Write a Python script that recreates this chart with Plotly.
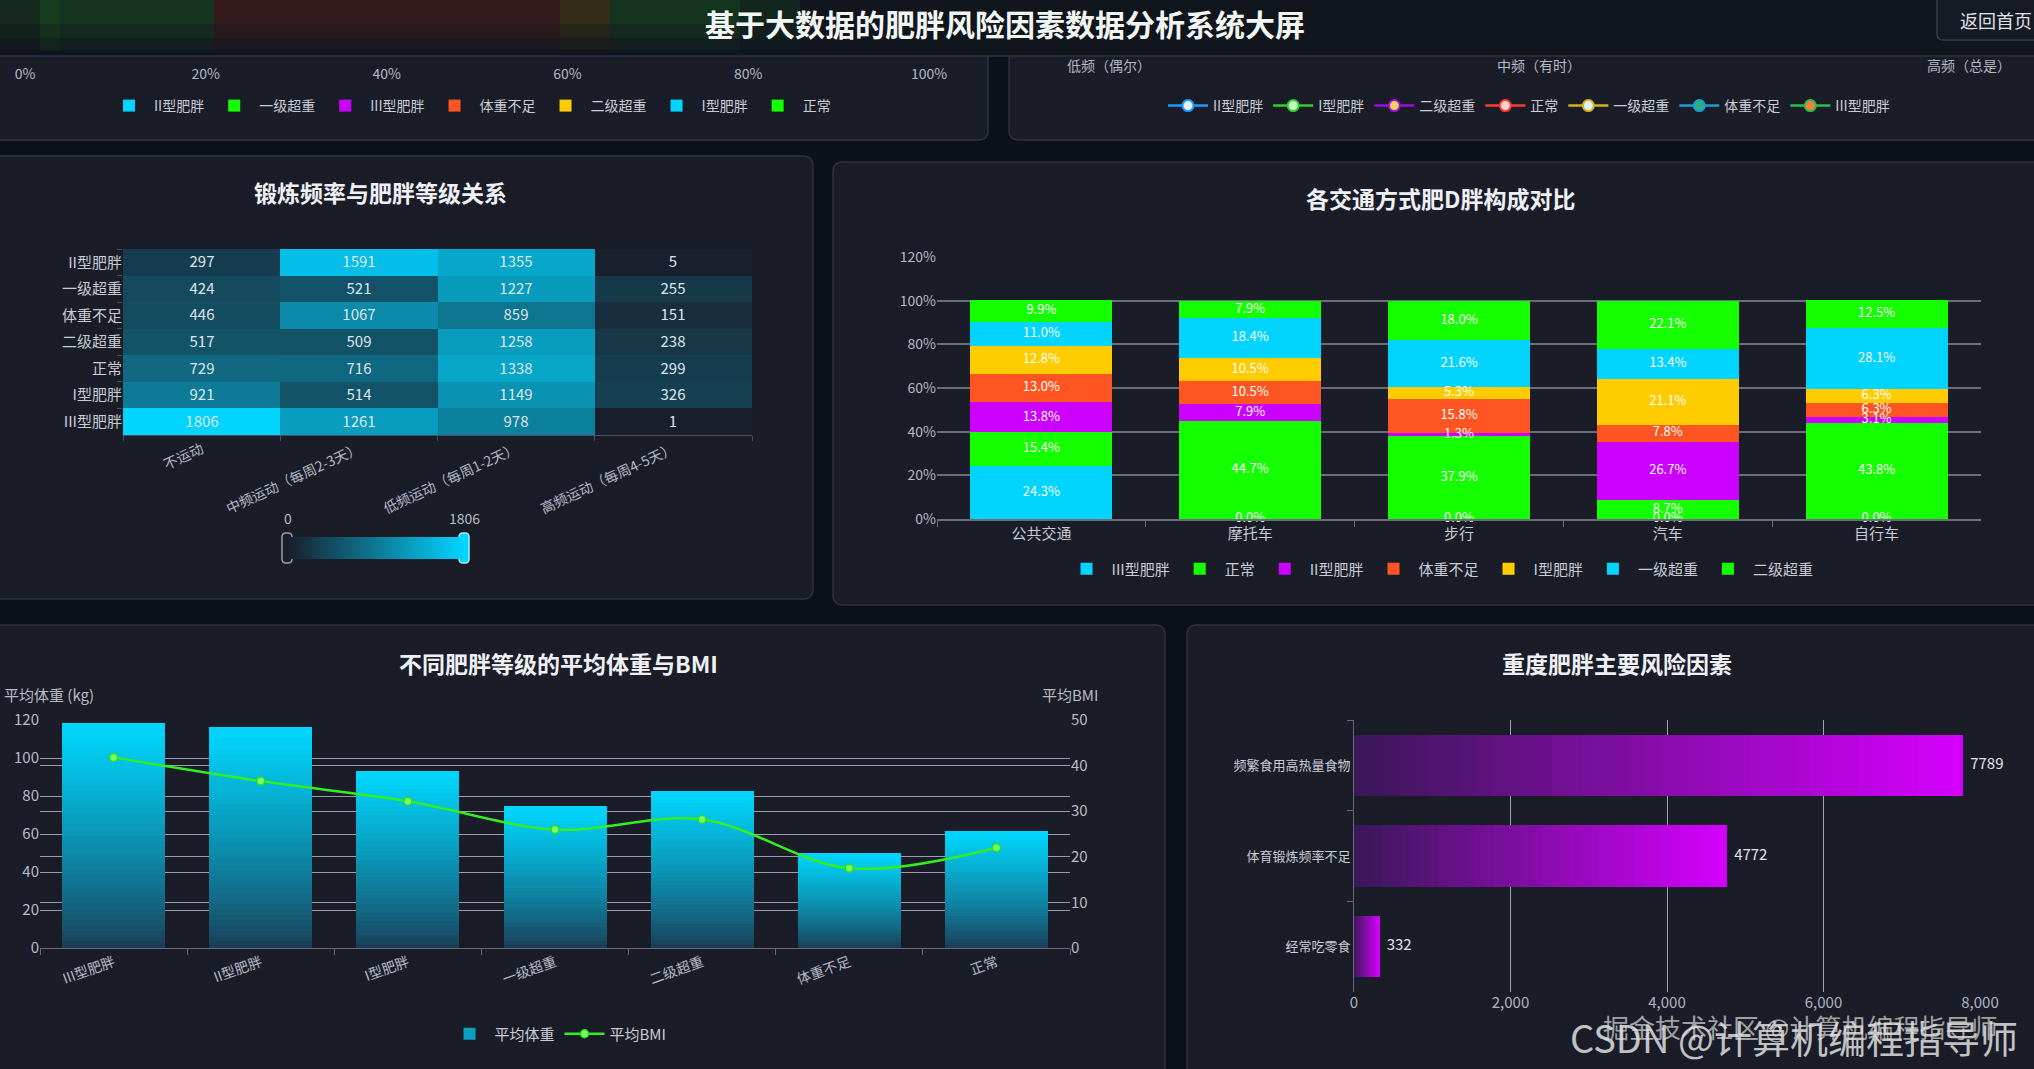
import plotly.graph_objects as go

W, H = 2034, 1069


def fx(p):
    return p / W


def fy(p):
    return 1 - p / H


FONT = "Noto Sans CJK SC, Noto Sans, sans-serif"
BG = "#0c111b"
PANEL = "#1a1d28"
PANEL_LINE = "#2b3242"
TXT = "#c8ccd6"

# ---------------- data ----------------
main_title = "基于大数据的肥胖风险因素数据分析系统大屏"
back_label = "返回首页"

# top-left (cropped) chart: only axis + legend visible
tl_series = ["II型肥胖", "一级超重", "III型肥胖", "体重不足", "二级超重", "I型肥胖", "正常"]
tl_colors = ["#00d4ff", "#14ff00", "#cc00ff", "#ff5522", "#ffcc00", "#00d4ff", "#14ff00"]
pct_ticks = [0, 20, 40, 60, 80, 100]

# top-right (cropped) chart: only axis + legend visible
freq_categories = ["低频（偶尔）", "中频（有时）", "高频（总是）"]
freq_series = ["II型肥胖", "I型肥胖", "二级超重", "正常", "一级超重", "体重不足", "III型肥胖"]
freq_line_colors = ["#1e9bff", "#2fd12f", "#9b10d8", "#ff3b30", "#d6b21e", "#1e9bd7", "#26c04a"]
freq_marker_colors = ["#e8ecff", "#c8ffc0", "#ffd060", "#ffd0d0", "#d8f4ff", "#2fb07f", "#ff7a44"]

# heatmap
heat_rows = ["II型肥胖", "一级超重", "体重不足", "二级超重", "正常", "I型肥胖", "III型肥胖"]
heat_cols = ["不运动", "中频运动（每周2-3天）", "低频运动（每周1-2天）", "高频运动（每周4-5天）"]
heat_row_obese2 = [297, 1591, 1355, 5]
heat_row_over1 = [424, 521, 1227, 255]
heat_row_under = [446, 1067, 859, 151]
heat_row_over2 = [517, 509, 1258, 238]
heat_row_normal = [729, 716, 1338, 299]
heat_row_obese1 = [921, 514, 1149, 326]
heat_row_obese3 = [1806, 1261, 978, 1]

# stacked percentage bars
transport = ["公共交通", "摩托车", "步行", "汽车", "自行车"]
st_obese3 = [24.3, 0.0, 0.0, 0.0, 0.0]
st_normal = [15.4, 44.7, 37.9, 8.7, 43.8]
st_obese2 = [13.8, 7.9, 1.3, 26.7, 3.1]
st_under = [13.0, 10.5, 15.8, 7.8, 6.3]
st_obese1 = [12.8, 10.5, 5.3, 21.1, 6.3]
st_over1 = [11.0, 18.4, 21.6, 13.4, 28.1]
st_over2 = [9.9, 7.9, 18.0, 22.1, 12.5]
st_names = ["III型肥胖", "正常", "II型肥胖", "体重不足", "I型肥胖", "一级超重", "二级超重"]
st_colors = ["#00d4ff", "#14ff00", "#cc00ff", "#ff5522", "#ffcc00", "#00d4ff", "#14ff00"]
st_ticks = [0, 20, 40, 60, 80, 100, 120]

# weight / BMI
grade_names = ["III型肥胖", "II型肥胖", "I型肥胖", "一级超重", "二级超重", "体重不足", "正常"]
avg_weight = [118.2, 116.5, 93.0, 74.5, 82.6, 50.2, 61.8]
avg_bmi = [41.8, 36.6, 32.2, 26.0, 28.2, 17.5, 22.0]

# risk factors
risk_factors = ["频繁食用高热量食物", "体育锻炼频率不足", "经常吃零食"]
risk_counts = [7789, 4772, 332]


# ---------------- helpers ----------------
def hex2rgb(h):
    h = h.lstrip("#")
    return tuple(int(h[i:i + 2], 16) for i in (0, 2, 4))


def lerp(c0, c1, t):
    a, b = hex2rgb(c0), hex2rgb(c1)
    return "rgb(%d,%d,%d)" % tuple(round(a[i] + (b[i] - a[i]) * t) for i in range(3))


def rrect(x0, y0, x1, y1, r):
    X = lambda p: p / W
    Y = lambda p: 1 - p / H
    return (f"M {X(x0 + r)},{Y(y0)} L {X(x1 - r)},{Y(y0)} Q {X(x1)},{Y(y0)} {X(x1)},{Y(y0 + r)} "
            f"L {X(x1)},{Y(y1 - r)} Q {X(x1)},{Y(y1)} {X(x1 - r)},{Y(y1)} "
            f"L {X(x0 + r)},{Y(y1)} Q {X(x0)},{Y(y1)} {X(x0)},{Y(y1 - r)} "
            f"L {X(x0)},{Y(y0 + r)} Q {X(x0)},{Y(y0)} {X(x0 + r)},{Y(y0)} Z")


fig = go.Figure()

# ---- top-left legend-only bars ----
for name, col in zip(tl_series, tl_colors):
    fig.add_trace(go.Bar(x=[None], y=[None], orientation="h", name=name, marker_color=col,
                         xaxis="x", yaxis="y", legend="legend", showlegend=True))

# ---- top-right legend-only lines ----
for name, lc, mc in zip(freq_series, freq_line_colors, freq_marker_colors):
    fig.add_trace(go.Scatter(x=freq_categories, y=[None] * len(freq_categories), mode="lines+markers",
                             name=name, line=dict(color=lc, width=2.5),
                             marker=dict(size=11, color=mc, line=dict(color=lc, width=2)),
                             xaxis="x2", yaxis="y2", legend="legend2", showlegend=True))

# ---- heatmap ----
heat_values = [heat_row_obese2, heat_row_over1, heat_row_under, heat_row_over2,
               heat_row_normal, heat_row_obese1, heat_row_obese3]
zmax = max(max(r) for r in heat_values)
fig.add_trace(go.Heatmap(
    z=heat_values, x=heat_cols, y=heat_rows, xaxis="x3", yaxis="y3",
    colorscale=[[0, "#1a1f2c"], [1, "#00d4ff"]], zmin=0, zmax=zmax,
    texttemplate="%{z}", textfont=dict(size=15, color="#dbe6ee"),
    showscale=True,
    colorbar=dict(orientation="h", x=fx(376), xanchor="center", y=fy(548), yanchor="middle",
                  len=176, lenmode="pixels", thickness=22, thicknessmode="pixels",
                  showticklabels=False, ticks="", outlinewidth=0, xpad=0, ypad=0),
    hoverinfo="skip"))

# ---- stacked bars ----
st_series = [st_obese3, st_normal, st_obese2, st_under, st_obese1, st_over1, st_over2]
for name, vals, col in zip(st_names, st_series, st_colors):
    fig.add_trace(go.Bar(x=transport, y=vals, name=name, width=0.68,
                         marker=dict(color=col, line=dict(width=0)),
                         xaxis="x4", yaxis="y4", legend="legend3"))
cum = [0.0] * len(transport)
lx, ly, lt = [], [], []
for vals in st_series:
    for i, v in enumerate(vals):
        lx.append(transport[i])
        ly.append(cum[i] + v / 2)
        lt.append(f"{v:.1f}%")
        cum[i] += v
fig.add_trace(go.Scatter(x=lx, y=ly, text=lt, mode="text", textposition="middle center",
                         textfont=dict(size=13, color="#ffffff"), xaxis="x4", yaxis="y4",
                         showlegend=False, cliponaxis=False, hoverinfo="skip"))

# ---- weight bars with vertical gradient (stacked slices) ----
K = 40
for k in range(K):
    t = (k + 0.5) / K
    fig.add_trace(go.Bar(x=grade_names, y=[w / K for w in avg_weight], width=0.7,
                         marker=dict(color=lerp("#1b3a52", "#00d8ff", t ** 0.8), line=dict(width=0)),
                         xaxis="x5", yaxis="y5", name="平均体重", legend="legend4",
                         showlegend=(k == int(K * 0.55)), hoverinfo="skip"))
fig.add_trace(go.Scatter(x=grade_names, y=avg_bmi, mode="lines+markers", name="平均BMI",
                         line=dict(color="#33ee22", width=2.5, shape="spline", smoothing=1.0),
                         marker=dict(size=8, color="#7dff66", line=dict(color="#22dd22", width=1.5)),
                         xaxis="x5", yaxis="y6", legend="legend4"))

# ---- risk bars with horizontal gradient (stacked slices) ----
for k in range(K):
    t = (k + 0.5) / K
    fig.add_trace(go.Bar(y=risk_factors, x=[c / K for c in risk_counts], orientation="h", width=0.68,
                         marker=dict(color=lerp("#3a1858", "#d600ff", t), line=dict(width=0)),
                         xaxis="x6", yaxis="y7", showlegend=False, hoverinfo="skip"))
fig.add_trace(go.Scatter(x=risk_counts, y=risk_factors, text=[f"  {c}" for c in risk_counts],
                         mode="text", textposition="middle right",
                         textfont=dict(size=15, color="#e2e4ea"), xaxis="x6", yaxis="y7",
                         showlegend=False, cliponaxis=False, hoverinfo="skip"))

# ---------------- shapes ----------------
shapes = []
for (x0, y0, x1, y1) in [(-20, 46, 988, 140), (1009, 46, 2054, 140), (-20, 156, 813, 599),
                         (833, 162, 2054, 605), (-20, 625, 1165, 1089), (1187, 625, 2054, 1089)]:
    shapes.append(dict(type="path", path=rrect(x0, y0, x1, y1, 10), xref="paper", yref="paper",
                       fillcolor=PANEL, line=dict(color=PANEL_LINE, width=1.5), layer="below"))
# header
shapes.append(dict(type="rect", xref="paper", yref="paper", x0=0, x1=1, y0=fy(56), y1=1,
                   fillcolor="#11151e", line=dict(width=0), layer="below"))
blobs = [(0, 60, "#1a4b1f", 0.6), (40, 214, "#1a4b1f", 1.0), (214, 560, "#4d1f1e", 1.0),
         (560, 610, "#4d3d15", 1.0), (610, 740, "#1a4b22", 1.0), (740, 800, "#1a4b22", 0.5)]
for x0, x1, col, f in blobs:
    for ybot, op in [(50, 0.18), (38, 0.26), (24, 0.32)]:
        shapes.append(dict(type="rect", xref="paper", yref="paper", x0=fx(x0), x1=fx(x1),
                           y0=fy(ybot), y1=1, fillcolor=col, opacity=op * f, line=dict(width=0),
                           layer="below"))
shapes.append(dict(type="line", xref="paper", yref="paper", x0=0, x1=1, y0=fy(56), y1=fy(56),
                   line=dict(color="#2a3040", width=1.5), layer="below"))
# back button
shapes.append(dict(type="path", path=rrect(1937, -10, 2060, 40, 6), xref="paper", yref="paper",
                   fillcolor="#161a24", line=dict(color="#363c4a", width=1.5), layer="below"))
# colorbar handles
shapes.append(dict(type="path", path=rrect(282, 533, 292, 563, 4), xref="paper", yref="paper",
                   fillcolor="rgba(0,0,0,0)", line=dict(color="#9aa0ac", width=1.5)))
shapes.append(dict(type="path", path=rrect(459, 533, 469, 563, 4), xref="paper", yref="paper",
                   fillcolor="#00d4ff", line=dict(color="#9ff0ff", width=1.5)))

# ---------------- annotations ----------------
ann = []


def text(x, y, s, size, color="#eef0f4", bold=False, xanchor="center", **kw):
    ann.append(dict(x=fx(x), y=fy(y), xref="paper", yref="paper", showarrow=False,
                    text=f"<b>{s}</b>" if bold else s, xanchor=xanchor, yanchor="middle",
                    font=dict(size=size, color=color, family=FONT), **kw))


text(1005, 23, main_title, 30, "#f2f6f2", bold=True)
text(1996, 20, back_label, 18, "#e0e4ea")
text(380, 192, "锻炼频率与肥胖等级关系", 23, bold=True)
text(1440, 198, "各交通方式肥D胖构成对比", 23, bold=True)
text(558, 663, "不同肥胖等级的平均体重与BMI", 23, bold=True)
text(1617, 663, "重度肥胖主要风险因素", 23, bold=True)
text(288, 518, "0", 14, "#b8bcc6")
text(464, 518, str(zmax), 14, "#b8bcc6")
text(2, 694, "平均体重 (kg)", 15, "#b8bcc6", xanchor="left")
text(1070, 694, "平均BMI", 15, "#b8bcc6")
text(1800, 1026, "掘金技术社区 @计算机编程指导师", 26, "rgba(205,205,205,0.75)")
text(1794, 1036, "CSDN @计算机编程指导师", 38, "rgba(225,225,225,0.85)")

axis_font = dict(size=14, color="#b4b8c4", family=FONT)
leg_font = dict(size=14, color=TXT, family=FONT)

fig.update_layout(
    template="none",
    width=W, height=H, autosize=False, margin=dict(l=0, r=0, t=0, b=0, pad=0),
    paper_bgcolor=BG, plot_bgcolor="rgba(0,0,0,0)", font=dict(family=FONT, color=TXT),
    barmode="stack", hovermode=False, shapes=shapes, annotations=ann,
    # top-left cropped axis
    xaxis=dict(domain=[fx(25), fx(929)], anchor="y", range=[0, 100], tickmode="array",
               tickvals=pct_ticks, ticktext=[f"{v}%" for v in pct_ticks],
               showgrid=False, zeroline=False, showline=False, ticks="",
               tickfont=axis_font, automargin=False),
    yaxis=dict(domain=[fy(64), fy(60)], anchor="x", visible=False, automargin=False),
    # top-right cropped axis
    xaxis2=dict(domain=[fx(1109), fx(1969)], anchor="y2", type="category",
                categoryorder="array", categoryarray=freq_categories, range=[0, 2],
                showgrid=False, zeroline=False, showline=False, ticks="", tickfont=axis_font,
                automargin=False),
    yaxis2=dict(domain=[fy(56), fy(53)], anchor="x2", visible=False, automargin=False),
    # heatmap
    xaxis3=dict(domain=[fx(123), fx(752)], anchor="y3", tickangle=-25, ticks="outside",
                tickson="boundaries", ticklen=5, tickcolor="#4a505e", showline=True,
                linecolor="#4a505e", showgrid=False, zeroline=False, tickfont=axis_font,
                automargin=False),
    yaxis3=dict(domain=[fy(435), fy(249)], anchor="x3", autorange="reversed", ticks="outside",
                tickson="boundaries", ticklen=5, tickcolor="#4a505e", showgrid=False,
                zeroline=False, tickfont=dict(size=15, color="#c8ccd6", family=FONT),
                automargin=False),
    # stacked
    xaxis4=dict(domain=[fx(937), fx(1981)], anchor="y4", ticks="outside", tickson="boundaries",
                ticklen=6, tickcolor="#6a6e7a", showline=True, linecolor="#6a6e7a", linewidth=1.5,
                showgrid=False, tickfont=dict(size=15, color="#c8ccd6", family=FONT),
                automargin=False),
    yaxis4=dict(domain=[fy(519), fy(257)], anchor="x4", range=[0, 120], tickmode="array",
                tickvals=st_ticks, ticktext=[f"{v}%" for v in st_ticks],
                showgrid=True, gridcolor="#6a6e7a", gridwidth=1.5,
                zeroline=False, tickfont=axis_font, automargin=False),
    # weight / BMI
    xaxis5=dict(domain=[fx(40), fx(1070)], anchor="y5", tickangle=-20, ticks="outside",
                tickson="boundaries", ticklen=6, tickcolor="#666a78", showline=True,
                linecolor="#666a78", showgrid=False, tickfont=axis_font, automargin=False),
    yaxis5=dict(domain=[fy(948), fy(720)], anchor="x5", range=[0, 120], dtick=20,
                showgrid=True, gridcolor="#9a9db0", gridwidth=1.2, zeroline=False,
                tickfont=dict(size=15, color="#b8bcc6", family=FONT), automargin=False),
    yaxis6=dict(overlaying="y5", side="right", anchor="x5", range=[0, 50], dtick=10,
                showgrid=True, gridcolor="#9a9db0", gridwidth=1.2, zeroline=False,
                tickfont=dict(size=15, color="#b8bcc6", family=FONT), automargin=False),
    # risk
    xaxis6=dict(domain=[fx(1354), fx(1980)], anchor="y7", range=[0, 8000], dtick=2000,
                tickformat=",", showgrid=True, gridcolor="#a0a3b0", gridwidth=1, zeroline=False,
                showline=False, tickfont=dict(size=15, color="#b0b4c0", family=FONT),
                automargin=False),
    yaxis7=dict(domain=[fy(992), fy(720)], anchor="x6", autorange="reversed", ticks="outside",
                tickson="boundaries", ticklen=6, tickcolor="#666a78", showline=True,
                linecolor="#666a78", showgrid=False,
                tickfont=dict(size=13, color="#c8ccd6", family=FONT), automargin=False),
    legend=dict(orientation="h", x=fx(470), xanchor="center", y=fy(106), yanchor="middle",
                font=leg_font, bgcolor="rgba(0,0,0,0)", traceorder="normal", itemwidth=40),
    legend2=dict(orientation="h", x=fx(1529), xanchor="center", y=fy(106), yanchor="middle",
                 font=leg_font, bgcolor="rgba(0,0,0,0)", traceorder="normal", itemwidth=40),
    legend3=dict(orientation="h", x=fx(1440), xanchor="center", y=fy(569), yanchor="middle",
                 font=dict(size=15, color=TXT, family=FONT), bgcolor="rgba(0,0,0,0)",
                 traceorder="normal", itemwidth=40),
    legend4=dict(orientation="h", x=fx(558), xanchor="center", y=fy(1034), yanchor="middle",
                 font=dict(size=15, color=TXT, family=FONT), bgcolor="rgba(0,0,0,0)",
                 traceorder="normal", itemwidth=40),
)

fig.write_html(
    "out.html",
    config={"displayModeBar": False},
    post_script="document.body.style.margin='0px';document.body.style.overflow='hidden';"
                "document.body.style.background='" + BG + "';",
)
